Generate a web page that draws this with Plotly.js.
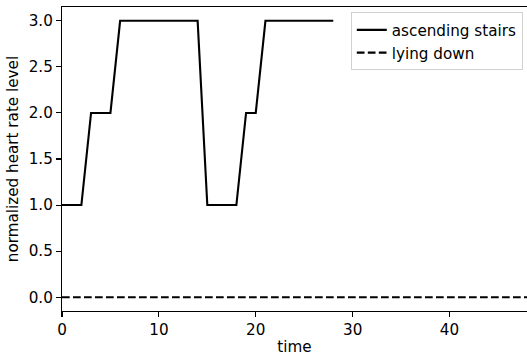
<!DOCTYPE html>
<html>
<head>
<meta charset="utf-8">
<script src="https://cdn.plot.ly/plotly-3.0.1.min.js"></script>
<style>html,body{margin:0;padding:0;background:#fff;}#chart{width:527px;height:356px;}</style>
</head>
<body>
<div id="chart"></div>
<script>
// time steps and levels
const stairsTime = [0,1,2,3,4,5,6,7,8,9,10,11,12,13,14,15,16,17,18,19,20,21,22,23,24,25,26,27,28];
const stairsLevel = [1,1,1,2,2,2,3,3,3,3,3,3,3,3,3,1,1,1,1,2,2,3,3,3,3,3,3,3,3];
const lyingTime = [0,1,2,3,4,5,6,7,8,9,10,11,12,13,14,15,16,17,18,19,20,21,22,23,24,25,26,27,28,29,30,31,32,33,34,35,36,37,38,39,40,41,42,43,44,45,46,47,48];
const lyingLevel = [0,0,0,0,0,0,0,0,0,0,0,0,0,0,0,0,0,0,0,0,0,0,0,0,0,0,0,0,0,0,0,0,0,0,0,0,0,0,0,0,0,0,0,0,0,0,0,0,0];
const seriesNames = ["ascending stairs", "lying down"];
const xTicks = [0,10,20,30,40];
const yTicks = [0,0.5,1,1.5,2,2.5,3];
const yTickText = ["0.0","0.5","1.0","1.5","2.0","2.5","3.0"];

const FONT = "DejaVu Sans, sans-serif";
const FS = 15.2;

const traces = [
  {x: stairsTime, y: stairsLevel, name: seriesNames[0], mode: "lines",
   line: {color: "#000", width: 2.1}},
  {x: lyingTime, y: lyingLevel, name: seriesNames[1], mode: "lines",
   line: {color: "#000", width: 2.1, dash: "7.7px,3.3px"}}
];

const axisCommon = {
  showgrid: false, zeroline: false, showline: true, linecolor: "#000", linewidth: 1.1,
  ticks: "outside", ticklen: 5, tickwidth: 1.1, tickcolor: "#000",
  tickfont: {family: FONT, size: FS, color: "#000"}, automargin: false
};

const layout = {
  width: 527, height: 356,
  margin: {l: 62, r: 0, t: 7.3, b: 44.5},
  paper_bgcolor: "#fff", plot_bgcolor: "#fff",
  font: {family: FONT, size: FS, color: "#000"},
  showlegend: true,
  legend: {
    x: 0.991, xanchor: "right", y: 0.982, yanchor: "top",
    bgcolor: "rgba(255,255,255,0.8)", bordercolor: "#d0d0d0", borderwidth: 1,
    tracegroupgap: 0,
    font: {family: FONT, size: FS, color: "#000"}
  },
  xaxis: Object.assign({}, axisCommon, {
    range: [0, 48], tickvals: xTicks, mirror: true,
    title: {text: "time", font: {family: FONT, size: FS, color: "#000"}, standoff: 4}
  }),
  yaxis: Object.assign({}, axisCommon, {
    range: [-0.15, 3.15], tickvals: yTicks, ticktext: yTickText, mirror: false,
    title: {text: "normalized heart rate level", font: {family: FONT, size: FS, color: "#000"}, standoff: 6}
  })
};

Plotly.newPlot("chart", traces, layout, {displayModeBar: false, staticPlot: true});
</script>
</body>
</html>
